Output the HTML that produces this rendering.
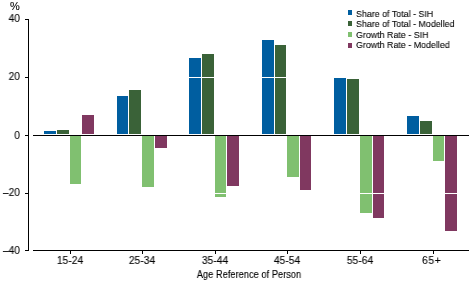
<!DOCTYPE html>
<html><head><meta charset="utf-8"><style>
html,body{margin:0;padding:0;background:#fff;}
body{width:472px;height:283px;position:relative;overflow:hidden;font-family:"Liberation Sans",sans-serif;color:#000;}
div{position:absolute;}
.t{position:absolute;white-space:nowrap;line-height:1;will-change:transform;-webkit-text-stroke:0.1px #000;}
</style></head><body>
<div style="left:44px;top:131px;width:12px;height:3px;background:#005ea0"></div><div style="left:57px;top:130px;width:12px;height:4px;background:#3a6238"></div><div style="left:70px;top:136px;width:11px;height:48px;background:#80c070"></div><div style="left:82px;top:115px;width:12px;height:19px;background:#803860"></div><div style="left:117px;top:96px;width:11px;height:38px;background:#005ea0"></div><div style="left:129px;top:90px;width:12px;height:44px;background:#3a6238"></div><div style="left:142px;top:136px;width:12px;height:51px;background:#80c070"></div><div style="left:155px;top:136px;width:12px;height:12px;background:#803860"></div><div style="left:189px;top:58px;width:12px;height:76px;background:#005ea0"></div><div style="left:202px;top:54px;width:12px;height:80px;background:#3a6238"></div><div style="left:215px;top:136px;width:11px;height:61px;background:#80c070"></div><div style="left:227px;top:136px;width:12px;height:50px;background:#803860"></div><div style="left:262px;top:40px;width:12px;height:94px;background:#005ea0"></div><div style="left:275px;top:45px;width:11px;height:89px;background:#3a6238"></div><div style="left:287px;top:136px;width:12px;height:41px;background:#80c070"></div><div style="left:300px;top:136px;width:11px;height:54px;background:#803860"></div><div style="left:334px;top:78px;width:12px;height:56px;background:#005ea0"></div><div style="left:347px;top:79px;width:12px;height:55px;background:#3a6238"></div><div style="left:360px;top:136px;width:12px;height:77px;background:#80c070"></div><div style="left:373px;top:136px;width:11px;height:82px;background:#803860"></div><div style="left:407px;top:116px;width:12px;height:18px;background:#005ea0"></div><div style="left:420px;top:121px;width:12px;height:13px;background:#3a6238"></div><div style="left:433px;top:136px;width:11px;height:25px;background:#80c070"></div><div style="left:445px;top:136px;width:12px;height:95px;background:#803860"></div><div style="left:33px;top:77px;width:436px;height:1px;background:#fff"></div><div style="left:33px;top:193px;width:436px;height:1px;background:#fff"></div><div style="left:28px;top:19px;width:1px;height:232px;background:#000"></div><div style="left:25px;top:19px;width:3px;height:1px;background:#000"></div><div style="left:25px;top:77px;width:3px;height:1px;background:#000"></div><div style="left:25px;top:135px;width:3px;height:1px;background:#000"></div><div style="left:25px;top:193px;width:3px;height:1px;background:#000"></div><div style="left:25px;top:250px;width:3px;height:1px;background:#000"></div><div style="left:33px;top:135px;width:436px;height:1px;background:#000"></div><div style="left:33px;top:250px;width:436px;height:1px;background:#000"></div><div style="left:70px;top:251px;width:1px;height:3px;background:#000"></div><div style="left:142px;top:251px;width:1px;height:3px;background:#000"></div><div style="left:215px;top:251px;width:1px;height:3px;background:#000"></div><div style="left:287px;top:251px;width:1px;height:3px;background:#000"></div><div style="left:360px;top:251px;width:1px;height:3px;background:#000"></div><div style="left:433px;top:251px;width:1px;height:3px;background:#000"></div><div style="left:348px;top:10px;width:4px;height:5px;background:#005ea0"></div><div style="left:348px;top:21px;width:4px;height:5px;background:#3a6238"></div><div style="left:348px;top:32px;width:4px;height:5px;background:#80c070"></div><div style="left:348px;top:43px;width:4px;height:5px;background:#803860"></div>
<span class="t" style="right:452px;top:1px;font-size:11px;transform:scaleX(1.0);transform-origin:100% 0">%</span><span class="t" style="right:452px;top:13px;font-size:10.8px;transform:scaleX(0.95);transform-origin:100% 0">40</span><span class="t" style="right:452px;top:71px;font-size:10.8px;transform:scaleX(0.95);transform-origin:100% 0">20</span><span class="t" style="right:452px;top:130px;font-size:10.8px;transform:scaleX(0.95);transform-origin:100% 0">0</span><span class="t" style="right:452px;top:187px;font-size:10.8px;transform:scaleX(0.95);transform-origin:100% 0">&ndash;20</span><span class="t" style="right:452px;top:245px;font-size:10.8px;transform:scaleX(0.95);transform-origin:100% 0">&ndash;40</span><span class="t" style="left:-30px;width:200px;text-align:center;top:255px;font-size:11px;transform:scaleX(0.94);transform-origin:50% 0">15-24</span><span class="t" style="left:42px;width:200px;text-align:center;top:255px;font-size:11px;transform:scaleX(0.94);transform-origin:50% 0">25-34</span><span class="t" style="left:115px;width:200px;text-align:center;top:255px;font-size:11px;transform:scaleX(0.94);transform-origin:50% 0">35-44</span><span class="t" style="left:187px;width:200px;text-align:center;top:255px;font-size:11px;transform:scaleX(0.94);transform-origin:50% 0">45-54</span><span class="t" style="left:260px;width:200px;text-align:center;top:255px;font-size:11px;transform:scaleX(0.94);transform-origin:50% 0">55-64</span><span class="t" style="left:422px;top:255px;font-size:11px;letter-spacing:0.6px;transform:scaleX(0.94);transform-origin:0 0">65+</span><span class="t" style="left:148.6px;width:200px;text-align:center;top:269px;font-size:10.7px;transform:scaleX(0.87);transform-origin:50% 0">Age Reference of Person</span><span class="t" style="left:356px;top:9.0px;font-size:9.6px;transform:scaleX(0.925);transform-origin:0 0">Share of Total - SIH</span><span class="t" style="left:356px;top:19.4px;font-size:9.6px;transform:scaleX(0.925);transform-origin:0 0">Share of Total - Modelled</span><span class="t" style="left:356px;top:29.8px;font-size:9.6px;transform:scaleX(0.925);transform-origin:0 0">Growth Rate - SIH</span><span class="t" style="left:356px;top:40.2px;font-size:9.6px;transform:scaleX(0.925);transform-origin:0 0">Growth Rate - Modelled</span>
</body></html>
